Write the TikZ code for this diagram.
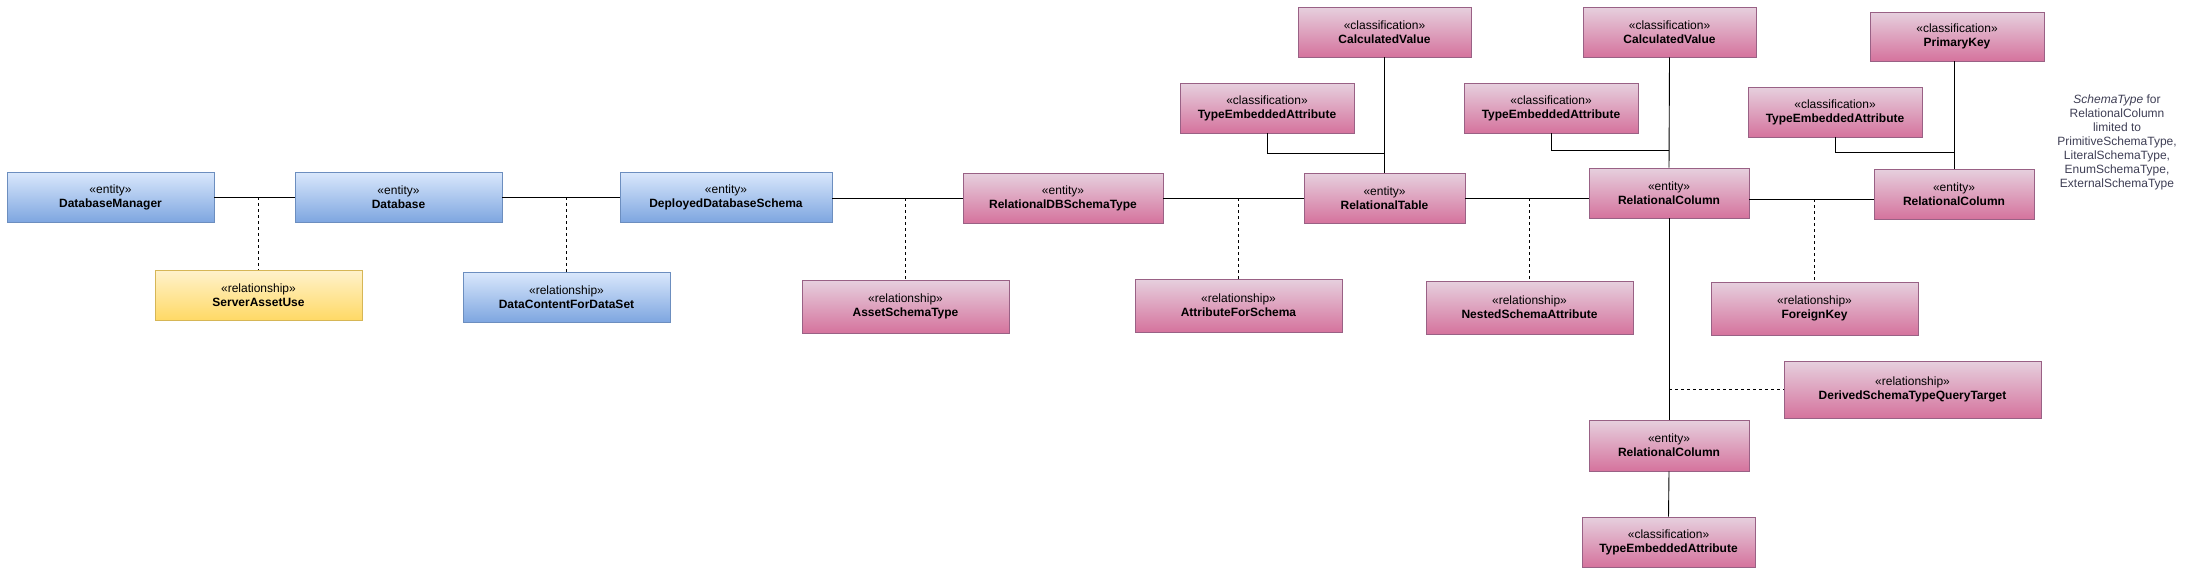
\documentclass[tikz,border=0pt]{standalone}
\usepackage{fontspec}
\setmainfont{Liberation Sans}
\definecolor{bluetop}{HTML}{DAE8FC}
\definecolor{bluebot}{HTML}{7EA6E0}
\definecolor{bluebd}{HTML}{6C8EBF}
\definecolor{pinktop}{HTML}{E6D0DE}
\definecolor{pinkbot}{HTML}{D5739D}
\definecolor{pinkbd}{HTML}{996185}
\definecolor{yeltop}{HTML}{FFF2CC}
\definecolor{yelbot}{HTML}{FFD966}
\definecolor{yelbd}{HTML}{D6B656}
\definecolor{notecol}{HTML}{3F3F55}
\newcommand\mystereo[1]{«#1»}
\begin{document}
\begin{tikzpicture}[x=1pt,y=-1pt,
  box/.style={align=center, inner sep=0pt, line width=0.8pt, font=\fontsize{12}{14}\selectfont},
  bluebox/.style={box, draw=bluebd, top color=bluetop, bottom color=bluebot},
  pinkbox/.style={box, draw=pinkbd, top color=pinktop, bottom color=pinkbot},
  yelbox/.style={box, draw=yelbd, top color=yeltop, bottom color=yelbot},
  wh/.style 2 args={minimum width=#1pt, minimum height=#2pt},
  conn/.style={draw=black, line width=0.9pt},
  rel/.style={draw=black, line width=0.8pt, dash pattern=on 3pt off 3pt}]
\useasboundingbox[fill=white] (0,0) rectangle (2185,571);

% blue entities
\node[bluebox, wh={207}{50}] (dbm) at (110.5,197) {\mystereo{entity}\\\textbf{DatabaseManager}};
\node[bluebox, wh={207}{50}] (db) at (398.5,197) {\mystereo{entity}\\\textbf{Database}};
\node[bluebox, wh={212}{50}] (dds) at (726,197) {\mystereo{entity}\\\textbf{DeployedDatabaseSchema}};
\node[yelbox, wh={207}{50}] (sau) at (258.5,295) {\mystereo{relationship}\\\textbf{ServerAssetUse}};
\node[bluebox, wh={207}{50}] (dcfds) at (566.5,297) {\mystereo{relationship}\\\textbf{DataContentForDataSet}};

% pink
\node[pinkbox, wh={207}{53}] (ast) at (905.5,306.5) {\mystereo{relationship}\\\textbf{AssetSchemaType}};
\node[pinkbox, wh={200}{50}] (rdbst) at (1063,198) {\mystereo{entity}\\\textbf{RelationalDBSchemaType}};
\node[pinkbox, wh={207}{53}] (afs) at (1238.5,305.5) {\mystereo{relationship}\\\textbf{AttributeForSchema}};
\node[pinkbox, wh={161}{50}] (rt) at (1384.5,198) {\mystereo{entity}\\\textbf{RelationalTable}};
\node[pinkbox, wh={173}{50}] (cv1) at (1384.5,32) {\mystereo{classification}\\\textbf{CalculatedValue}};
\node[pinkbox, wh={174}{50}] (tea1) at (1267,108) {\mystereo{classification}\\\textbf{TypeEmbeddedAttribute}};
\node[pinkbox, wh={160}{50}] (rc1) at (1669,193) {\mystereo{entity}\\\textbf{RelationalColumn}};
\node[pinkbox, wh={173}{50}] (cv2) at (1669.5,32) {\mystereo{classification}\\\textbf{CalculatedValue}};
\node[pinkbox, wh={174}{50}] (tea2) at (1551,108) {\mystereo{classification}\\\textbf{TypeEmbeddedAttribute}};
\node[pinkbox, wh={207}{53}] (nsa) at (1529.5,307.5) {\mystereo{relationship}\\\textbf{NestedSchemaAttribute}};
\node[pinkbox, wh={160}{50}] (rc2) at (1954,194) {\mystereo{entity}\\\textbf{RelationalColumn}};
\node[pinkbox, wh={174}{49}] (pk) at (1957,36.5) {\mystereo{classification}\\\textbf{PrimaryKey}};
\node[pinkbox, wh={174}{50}] (tea3) at (1835,112) {\mystereo{classification}\\\textbf{TypeEmbeddedAttribute}};
\node[pinkbox, wh={207}{53}] (fk) at (1814.5,308.5) {\mystereo{relationship}\\\textbf{ForeignKey}};
\node[pinkbox, wh={257}{57}] (dstqt) at (1912.5,389.5) {\mystereo{relationship}\\\textbf{DerivedSchemaTypeQueryTarget}};
\node[pinkbox, wh={160}{51}] (rc3) at (1669,445.5) {\mystereo{entity}\\\textbf{RelationalColumn}};
\node[pinkbox, wh={173}{50}] (tea4) at (1668.5,542) {\mystereo{classification}\\\textbf{TypeEmbeddedAttribute}};

% note
\node[align=center, text=notecol, font=\fontsize{12}{14}\selectfont, inner sep=0pt] (note) at (2117,142)
  {\textit{SchemaType} for\\RelationalColumn\\limited to\\PrimitiveSchemaType,\\LiteralSchemaType,\\EnumSchemaType,\\ExternalSchemaType};

% connectors
\draw[conn] (dbm.east) -- (db.west);
\draw[rel] (sau.north |- dbm.east) -- (sau.north);
\draw[conn] (db.east) -- (dds.west);
\draw[rel] (dcfds.north |- db.east) -- (dcfds.north);
\draw[conn] (dds.east |- rdbst.west) -- (rdbst.west);
\draw[rel] (ast.north |- rdbst.west) -- (ast.north);
\draw[conn] (rdbst.east) -- (rt.west);
\draw[rel] (afs.north |- rt.west) -- (afs.north);
\draw[conn] (rt.east) -- (rt.east -| rc1.west);
\draw[rel] (nsa.north |- rt.east) -- (nsa.north);
\coordinate (l6) at ([yshift=-6pt]rc1.east);
\draw[conn] (l6) -- (l6 -| rc2.west);
\draw[rel] (fk.north |- l6) -- (fk.north);

\coordinate (k1) at (1384.5,153);
\coordinate (k2) at (1669,150);
\coordinate (k3) at (1954,152);
\coordinate (k4) at (1669,389.5);
\draw[conn] (cv1.south) -- (rt.north);
\draw[conn] (tea1.south) |- (k1);
\draw[conn] (cv2.south) -- (rc1.north);
\draw[conn] (tea2.south) |- (k2);
\draw[conn] (pk.south -| rc2.north) -- (rc2.north);
\draw[conn] (tea3.south) |- (k3);
\draw[conn] (rc1.south) -- (rc3.north);
\draw[rel] (k4) -- (dstqt.west);
\draw[conn] (rc3.south) -- (tea4.north);
\end{tikzpicture}
\end{document}
